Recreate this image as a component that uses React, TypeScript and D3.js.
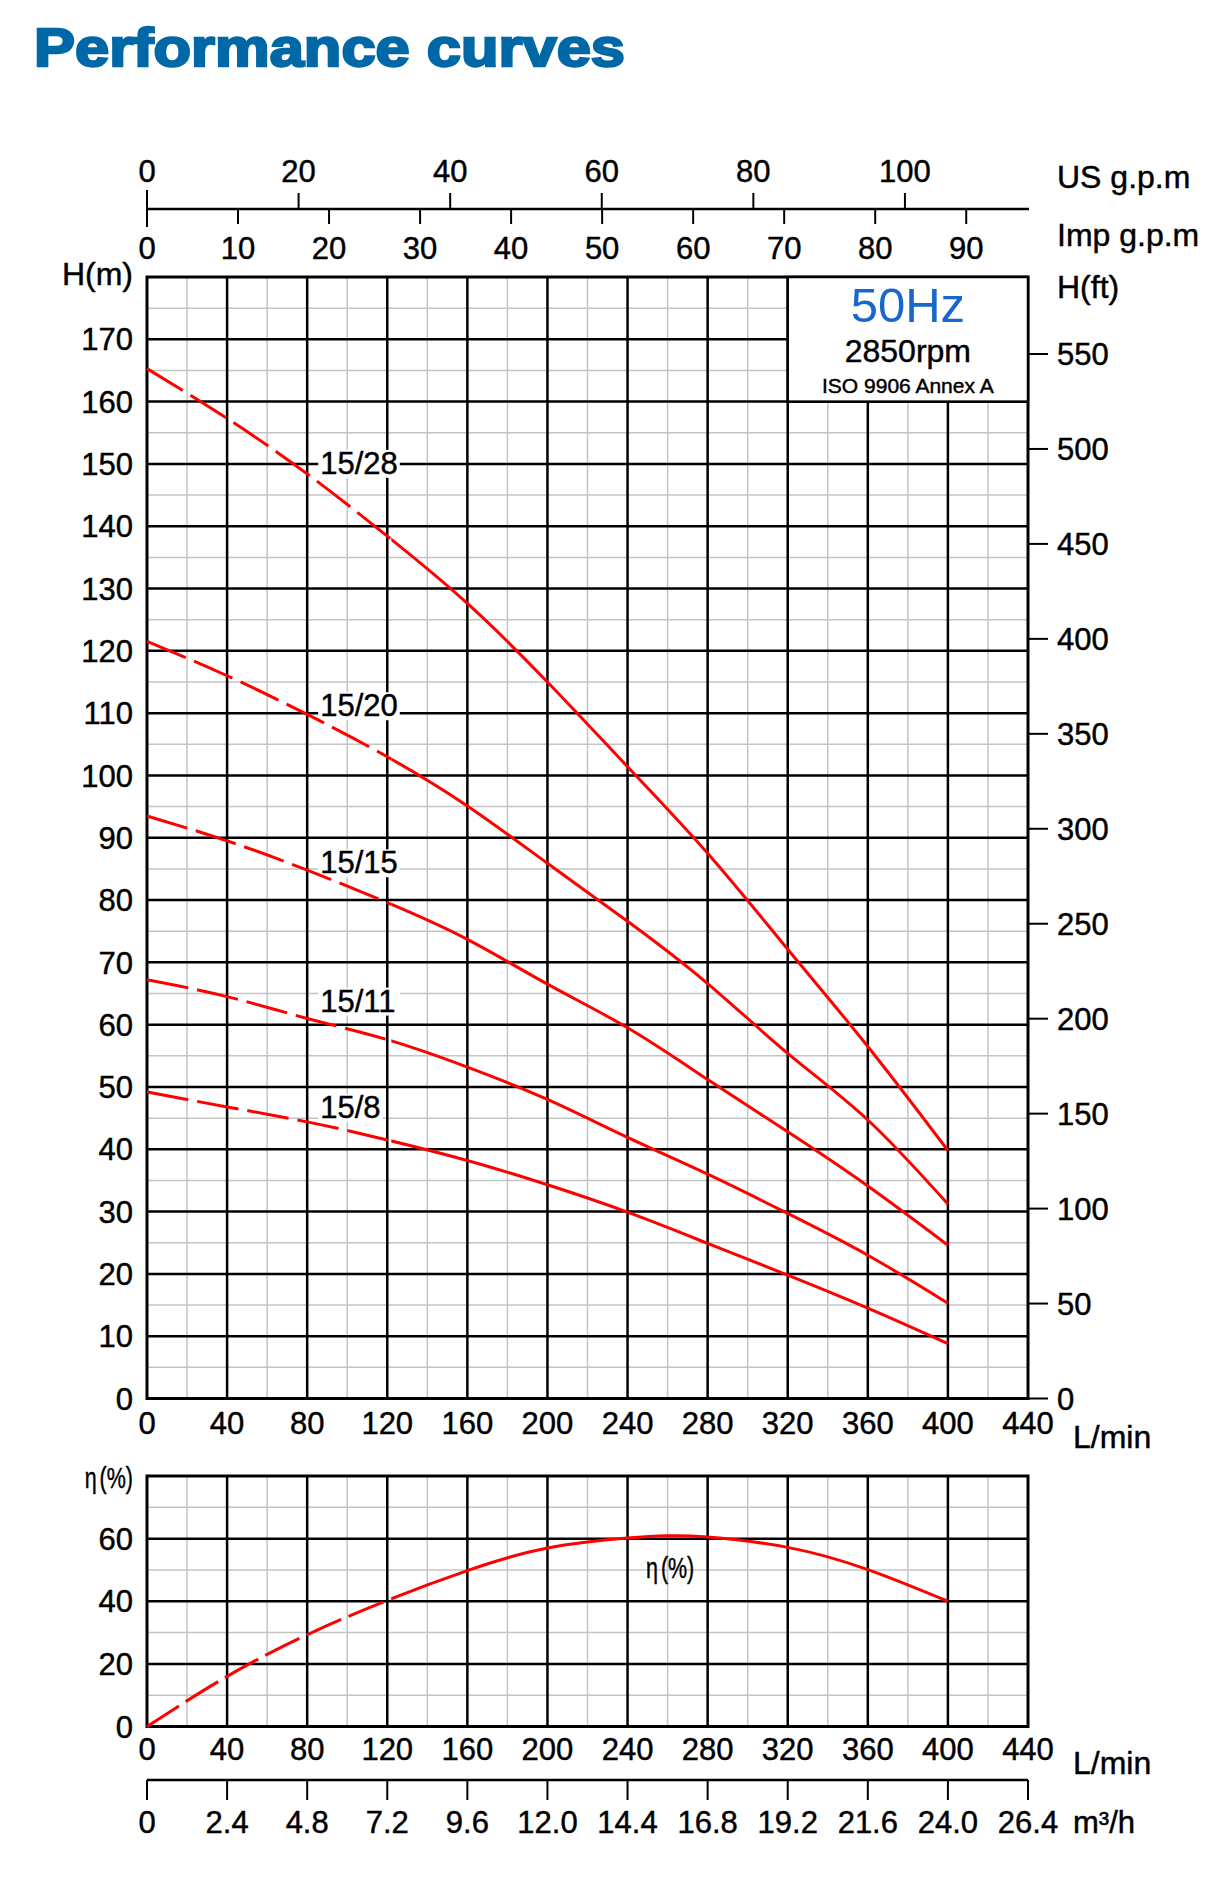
import * as d3 from "d3";

// ── Data ──────────────────────────────────────────────────────────────────────
const flowPoints = [0, 40, 80, 120, 160, 200, 240, 280, 320, 360, 400]; // L/min
const models = ["15/28", "15/20", "15/15", "15/11", "15/8"];
const head15_28 = [165.3, 157.3, 148.4, 138.4, 127.6, 115.0, 101.4, 87.5, 72.1, 56.5, 39.8];
const head15_20 = [121.5, 116.0, 109.8, 103.0, 95.1, 85.9, 76.6, 66.6, 55.4, 44.7, 31.2];
const head15_15 = [93.5, 89.5, 84.8, 79.6, 73.7, 66.5, 59.5, 51.2, 42.8, 34.1, 24.6];
const head15_11 = [67.2, 64.5, 61.0, 57.6, 53.2, 48.0, 41.9, 36.0, 29.7, 23.0, 15.3];
const head15_8 = [49.2, 46.8, 44.4, 41.5, 38.2, 34.3, 29.9, 24.9, 19.8, 14.5, 8.8];
const headSeries = [head15_28, head15_20, head15_15, head15_11, head15_8];
const labelHead = [148.4, 109.5, 84.3, 62.1, 45.0]; // m, where each model name sits

const effFlow = [0, 40, 80, 120, 160, 200, 240, 260, 280, 320, 360, 400];
const effValues = [0, 16.0, 29.3, 40.3, 49.8, 57.0, 60.2, 60.9, 60.5, 57.2, 50.1, 40.0];

const flowTicks = [0, 40, 80, 120, 160, 200, 240, 280, 320, 360, 400, 440];
const headTicks = [0, 10, 20, 30, 40, 50, 60, 70, 80, 90, 100, 110, 120, 130, 140, 150, 160, 170];
const feetTicks = [0, 50, 100, 150, 200, 250, 300, 350, 400, 450, 500, 550];
const usGpmTicks = [0, 20, 40, 60, 80, 100];
const impGpmTicks = [0, 10, 20, 30, 40, 50, 60, 70, 80, 90];
const effTicks = [0, 20, 40, 60];
const m3hLabels = ["0", "2.4", "4.8", "7.2", "9.6", "12.0", "14.4", "16.8", "19.2", "21.6", "24.0", "26.4"];

// ── Layout ────────────────────────────────────────────────────────────────────
const W = 1207;
const H = 1895;
const L = 147;
const R = 1028;
const FONT = "'Liberation Sans', Arial, Helvetica, sans-serif";
const RED = "#ff0000";
const GREY = "#c4c4c4";
const DASH_END = 122; // L/min, curves are dashed left of this

const US_GPM = 3.78541;
const IMP_GPM = 4.54609;
const FT = 0.3048;

const x = d3.scaleLinear().domain([0, 440]).range([L, R]);
const yH = d3.scaleLinear().domain([0, 180]).range([1398.5, 277]);
const yE = d3.scaleLinear().domain([0, 80]).range([1726.5, 1476]);

function textWidth(s: string, size: number) {
  let w = 0;
  for (const c of s) w += c === "/" ? 0.278 : 0.556;
  return w * size;
}

function Grid({ y, yMax, yMinorStep, yMajorStep }: {
  y: d3.ScaleLinear<number, number>; yMax: number; yMinorStep: number; yMajorStep: number;
}) {
  const top = y(yMax);
  const bottom = y(0);
  const minorX = d3.range(0, 441, 20).filter((v) => v % 40 !== 0);
  const majorX = d3.range(40, 440, 40);
  const minorY = d3.range(0, yMax + 1, yMinorStep).filter((v) => v % yMajorStep !== 0);
  const majorY = d3.range(yMajorStep, yMax, yMajorStep);
  return (
    <g>
      <rect x={L} y={top} width={R - L} height={bottom - top} fill="#fff" />
      {minorX.map((v) => (
        <line key={"mx" + v} x1={x(v)} x2={x(v)} y1={top} y2={bottom} stroke={GREY} strokeWidth={1.5} />
      ))}
      {minorY.map((v) => (
        <line key={"my" + v} x1={L} x2={R} y1={y(v)} y2={y(v)} stroke={GREY} strokeWidth={1.5} />
      ))}
      {majorX.map((v) => (
        <line key={"Mx" + v} x1={x(v)} x2={x(v)} y1={top} y2={bottom} stroke="#000" strokeWidth={2.5} />
      ))}
      {majorY.map((v) => (
        <line key={"My" + v} x1={L} x2={R} y1={y(v)} y2={y(v)} stroke="#000" strokeWidth={2.5} />
      ))}
      <rect x={L} y={top} width={R - L} height={bottom - top} fill="none" stroke="#000" strokeWidth={3} />
    </g>
  );
}

export default function App() {
  const headLine = d3
    .line<number>()
    .x((_, i) => x(flowPoints[i]))
    .y((d) => yH(d))
    .curve(d3.curveNatural);

  const effLine = d3
    .line<number>()
    .x((_, i) => x(effFlow[i]))
    .y((d) => yE(d))
    .curve(d3.curveNatural);

  const split = x(DASH_END);
  // slightly heavier text, like the printed original
  const ink = { stroke: "#000", strokeWidth: 0.45 };

  return (
    <svg
      width={W}
      height={H}
      style={{ position: "absolute", left: 0, top: 0, background: "#fff" }}
      fontFamily={FONT}
    >
      <defs>
        <clipPath id="dashedPart">
          <rect x={0} y={0} width={split} height={H} />
        </clipPath>
        <clipPath id="solidPart">
          <rect x={split} y={0} width={W - split} height={H} />
        </clipPath>
      </defs>

      {/* Title */}
      <text
        x={34}
        y={66}
        fontSize={54}
        fontWeight="bold"
        fill="#0068a6"
        stroke="#0068a6"
        strokeWidth={2.4}
        textLength={591}
        lengthAdjust="spacingAndGlyphs"
      >
        Performance curves
      </text>

      {/* ── Top flow axes (US / Imp g.p.m) ── */}
      <line x1={L} x2={R + 1} y1={209} y2={209} stroke="#000" strokeWidth={2.5} />
      {usGpmTicks.map((v) => (
        <g key={"us" + v}>
          <line x1={x(v * US_GPM)} x2={x(v * US_GPM)} y1={v === 0 ? 190 : 193} y2={209} stroke="#000" strokeWidth={2} />
          <text x={x(v * US_GPM)} y={182} fontSize={31} textAnchor="middle" {...ink}>{v}</text>
        </g>
      ))}
      {impGpmTicks.map((v) => (
        <g key={"imp" + v}>
          <line x1={x(v * IMP_GPM)} x2={x(v * IMP_GPM)} y1={209} y2={v === 0 ? 227 : 224} stroke="#000" strokeWidth={2} />
          <text x={x(v * IMP_GPM)} y={259} fontSize={31} textAnchor="middle" {...ink}>{v}</text>
        </g>
      ))}
      <text x={1057} y={188} fontSize={32} {...ink}>US g.p.m</text>
      <text x={1057} y={246} fontSize={32} {...ink}>Imp g.p.m</text>

      {/* ── Head chart ── */}
      <Grid y={yH} yMax={180} yMinorStep={5} yMajorStep={10} />

      {/* rating box */}
      <rect x={x(320)} y={yH(180)} width={x(440) - x(320)} height={yH(160) - yH(180)} fill="#fff" stroke="#000" strokeWidth={2.5} />
      <text x={(x(320) + x(440)) / 2} y={322} fontSize={49} textAnchor="middle" fill="#1868cc">50Hz</text>
      <text x={(x(320) + x(440)) / 2} y={362} fontSize={32} textAnchor="middle" {...ink}>2850rpm</text>
      <text x={(x(320) + x(440)) / 2} y={393} fontSize={21} textAnchor="middle" {...ink}>ISO 9906 Annex A</text>

      {/* left axis */}
      <text x={133} y={285} fontSize={32} textAnchor="end" {...ink}>H(m)</text>
      {headTicks.map((v) => (
        <text key={"h" + v} x={133} y={yH(v)} dy="0.36em" fontSize={31} textAnchor="end" {...ink}>{v}</text>
      ))}

      {/* right axis (ft) */}
      <text x={1057} y={298} fontSize={32} {...ink}>H(ft)</text>
      {feetTicks.map((v) => (
        <g key={"ft" + v}>
          <line x1={R} x2={R + 20} y1={yH(v * FT)} y2={yH(v * FT)} stroke="#000" strokeWidth={2} />
          <text x={1057} y={yH(v * FT)} dy="0.36em" fontSize={31} {...ink}>{v}</text>
        </g>
      ))}

      {/* bottom axis */}
      {flowTicks.map((v) => (
        <text key={"fb" + v} x={x(v)} y={1434} fontSize={31} textAnchor="middle" {...ink}>{v}</text>
      ))}
      <text x={1073} y={1448} fontSize={32} {...ink}>L/min</text>

      {/* model labels */}
      {models.map((m, i) => {
        const bx = x(86.5);
        const by = yH(labelHead[i]);
        const w = textWidth(m, 31);
        return (
          <g key={"lab" + m}>
            <rect x={bx - 2} y={by - 24} width={w + 4} height={28} fill="#fff" />
            <text x={bx} y={by} fontSize={31} {...ink}>{m}</text>
          </g>
        );
      })}

      {/* head curves */}
      {headSeries.map((s, i) => (
        <g key={"c" + models[i]} fill="none" stroke={RED} strokeWidth={3}>
          <path d={headLine(s) ?? ""} clipPath="url(#dashedPart)" strokeDasharray="42 9" />
          <path d={headLine(s) ?? ""} clipPath="url(#solidPart)" />
        </g>
      ))}

      {/* ── Efficiency chart ── */}
      <Grid y={yE} yMax={80} yMinorStep={10} yMajorStep={20} />

      <text x={133} y={1488} fontSize={29} textAnchor="end" transform="translate(133,0) scale(0.74,1) translate(-133,0)" {...ink}>
        <tspan>η</tspan><tspan dx={4}>(%)</tspan>
      </text>
      {effTicks.map((v) => (
        <text key={"e" + v} x={133} y={yE(v)} dy="0.36em" fontSize={31} textAnchor="end" {...ink}>{v}</text>
      ))}
      {flowTicks.map((v) => (
        <text key={"fe" + v} x={x(v)} y={1760} fontSize={31} textAnchor="middle" {...ink}>{v}</text>
      ))}
      <text x={1073} y={1774} fontSize={32} {...ink}>L/min</text>

      <g fill="none" stroke={RED} strokeWidth={3}>
        <path d={effLine(effValues) ?? ""} clipPath="url(#dashedPart)" strokeDasharray="38 8" />
        <path d={effLine(effValues) ?? ""} clipPath="url(#solidPart)" />
      </g>
      <text x={646} y={1578} fontSize={29} transform="translate(646,0) scale(0.74,1) translate(-646,0)" {...ink}>
        <tspan>η</tspan><tspan dx={4}>(%)</tspan>
      </text>

      {/* ── m³/h axis ── */}
      <line x1={L} x2={R} y1={1780} y2={1780} stroke="#000" strokeWidth={2.5} />
      {flowTicks.map((v, i) => (
        <g key={"m3" + v}>
          <line x1={x(v)} x2={x(v)} y1={1780} y2={1800} stroke="#000" strokeWidth={2} />
          <text x={x(v)} y={1833} fontSize={31} textAnchor="middle" {...ink}>{m3hLabels[i]}</text>
        </g>
      ))}
      <text x={1073} y={1833} fontSize={31} {...ink}>m³/h</text>
    </svg>
  );
}
